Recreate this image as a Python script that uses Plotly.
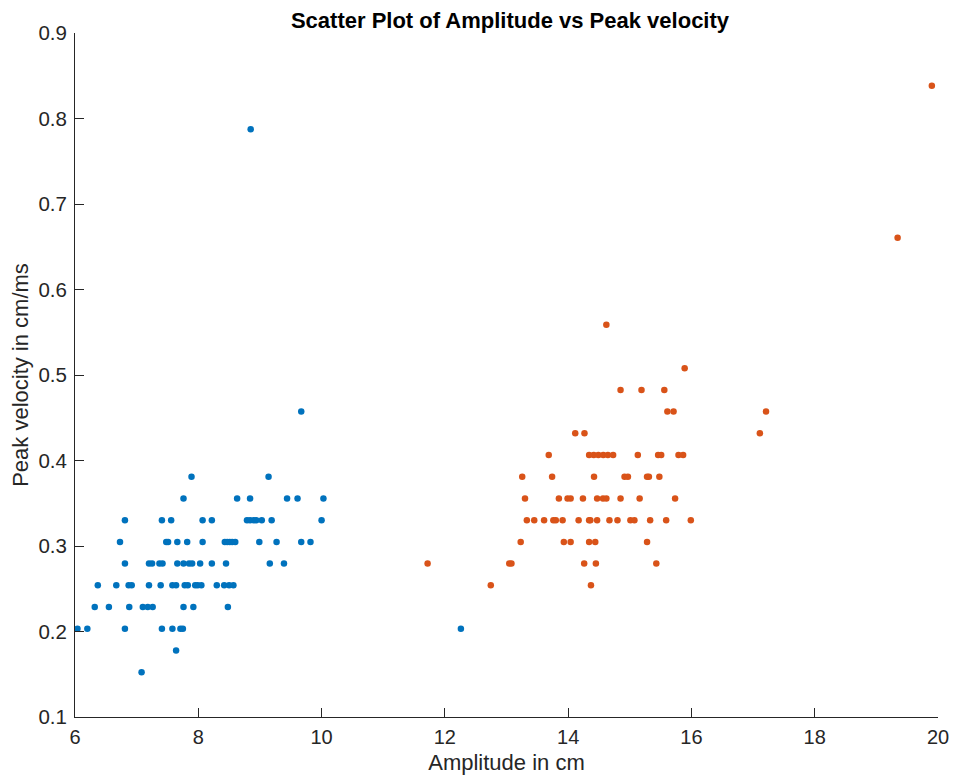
import plotly.graph_objects as go

# Blue series (group 1)
blue_x = [6.81, 7.41, 7.56, 8.07, 8.22, 8.79, 8.84, 8.90, 8.94, 9.03, 9.19, 10.0,
          7.76, 8.63, 8.84, 9.44, 9.61, 10.03,
          7.89, 9.14,
          9.67,
          8.85,
          6.73, 7.48, 7.51, 7.66, 7.82, 8.07, 8.43, 8.47, 8.51, 8.55, 8.60, 8.99, 9.27, 9.67, 9.82,
          6.81, 7.20, 7.25, 7.37, 7.42, 7.66, 7.76, 7.85, 7.90, 8.03, 8.22, 8.45, 9.16, 9.39,
          6.37, 6.67, 6.87, 6.92, 7.20, 7.39, 7.58, 7.64, 7.78, 7.83, 7.95, 7.99, 8.05, 8.30, 8.42, 8.50, 8.57,
          6.32, 6.55, 6.88, 7.10, 7.18, 7.26, 7.76, 7.92, 8.48,
          6.04, 6.20, 6.81, 7.41, 7.58, 7.71, 7.75, 12.26,
          7.64,
          7.08]
blue_y = [0.3302] * 12 + [0.3556] * 6 + [0.381] * 2 + [0.4572] + [0.7874] + \
         [0.3048] * 15 + [0.2794] * 14 + [0.254] * 17 + [0.2286] * 9 + \
         [0.2032] * 8 + [0.1778] + [0.1524]

# Orange series (group 2)
orange_x = [12.745, 14.37,
            11.72, 13.045, 13.08, 14.26, 14.45, 15.43,
            13.23, 13.93, 14.04, 14.34, 14.44, 15.28,
            13.33, 13.45, 13.61, 13.76, 13.80, 13.91, 14.17, 14.34, 14.36, 14.47, 14.67, 14.80, 15.01, 15.075, 15.33, 15.59, 15.99,
            13.30, 13.85, 13.99, 14.04, 14.24, 14.47, 14.565, 14.62, 14.85, 15.16, 15.735,
            13.255, 13.74, 14.42, 14.915, 14.97, 15.28, 15.31, 15.48,
            13.685, 14.34, 14.415, 14.49, 14.57, 14.645, 14.73, 15.13, 15.46, 15.51, 15.79, 15.865,
            14.115, 14.265, 17.11,
            15.61, 15.71, 17.21,
            14.85, 15.19, 15.56,
            15.89,
            14.62,
            19.345,
            19.90]
orange_y = [0.254] * 2 + [0.2794] * 6 + [0.3048] * 6 + [0.3302] * 17 + [0.3556] * 11 + \
           [0.381] * 8 + [0.4064] * 12 + [0.4318] * 3 + [0.4572] * 3 + [0.4826] * 3 + \
           [0.508] + [0.5588] + [0.6604] + [0.8382]

x_ticks = [6, 8, 10, 12, 14, 16, 18, 20]
y_ticks = [0.1, 0.2, 0.3, 0.4, 0.5, 0.6, 0.7, 0.8, 0.9]

FONT = "Liberation Sans, Arial, Helvetica, sans-serif"
AX = "#262626"

# page body adds an 8px offset; figure is sized to fit inside the visible area
W, H = 941, 767

fig = go.Figure()
fig.add_trace(go.Scatter(x=blue_x, y=blue_y, mode="markers",
                         marker=dict(color="#0072BD", size=6.5, line=dict(width=0)),
                         showlegend=False, cliponaxis=False))
fig.add_trace(go.Scatter(x=orange_x, y=orange_y, mode="markers",
                         marker=dict(color="#D95319", size=6.5, line=dict(width=0)),
                         showlegend=False, cliponaxis=False))

fig.update_layout(
    width=W, height=H,
    margin=dict(l=67, r=11, t=25, b=58, autoexpand=False),
    paper_bgcolor="white", plot_bgcolor="white",
    font=dict(family=FONT, color=AX),
    title=dict(text="<b>Scatter Plot of Amplitude vs Peak velocity</b>",
               x=502 / W, xanchor="center",
               y=1 - 12 / H, yanchor="middle", yref="container",
               font=dict(family=FONT, size=22, color="black")),
)
fig.update_xaxes(range=[6, 20], tickvals=x_ticks, ticktext=[str(v) for v in x_ticks],
                 showgrid=False, zeroline=False, showline=True, linecolor=AX, linewidth=1,
                 ticks="inside", ticklen=9, tickcolor=AX, mirror=False, automargin=True,
                 tickfont=dict(size=20, color=AX), ticklabelstandoff=2,
                 ticklabeloverflow="allow",
                 title=dict(text="Amplitude in cm", font=dict(size=22, color=AX), standoff=12))
fig.update_yaxes(range=[0.1, 0.9], tickvals=y_ticks, ticktext=[f"{v:.1f}" for v in y_ticks],
                 showgrid=False, zeroline=False, showline=True, linecolor=AX, linewidth=1,
                 ticks="inside", ticklen=9, tickcolor=AX, mirror=False, automargin=False,
                 tickfont=dict(size=20.5, color=AX), ticklabelstandoff=3,
                 ticklabeloverflow="allow",
                 title=dict(text="Peak velocity in cm/ms", font=dict(size=22, color=AX)))

fig.write_html("out.html")
